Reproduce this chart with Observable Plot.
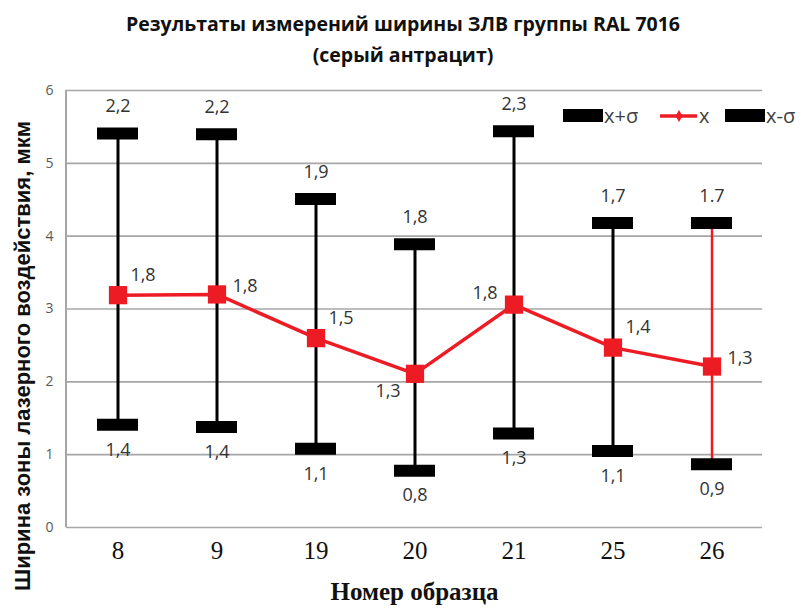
<!DOCTYPE html>
<html>
<head>
<meta charset="utf-8">
<script src="https://cdn.jsdelivr.net/npm/d3@7"></script>
<script src="https://cdn.jsdelivr.net/npm/@observablehq/plot@0.6"></script>
<style>
  body { margin: 0; background: #fff; }
  #wrap { position: relative; width: 806px; height: 608px; overflow: hidden; }
  #title { position: absolute; top: 8px; left: 0; width: 806px; text-align: center;
           font-family: "Open Sans", sans-serif; font-weight: 700; font-size: 19.5px; line-height: 31px; color: #111; }
  #chart { position: absolute; top: 0; left: 0; }
  #legend { position: absolute; left: 555px; top: 100px; }
</style>
</head>
<body>
<div id="wrap">
  <div id="chart"></div>
  <div id="title">Результаты измерений ширины ЗЛВ группы RAL 7016<br>(серый антрацит)</div>
  <svg id="legend" width="251" height="32"></svg>
</div>
<script>
const samples = ["8", "9", "19", "20", "21", "25", "26"];
const meanVals = [3.19, 3.2, 2.6, 2.11, 3.06, 2.47, 2.21];
const upperVals = [5.41, 5.4, 4.51, 3.89, 5.44, 4.18, 4.18];
const lowerVals = [1.41, 1.38, 1.08, 0.78, 1.29, 1.05, 0.87];
const upperLabels = ["2,2", "2,2", "1,9", "1,8", "2,3", "1,7", "1.7"];
const meanLabels = ["1,8", "1,8", "1,5", "1,3", "1,8", "1,4", "1,3"];
const lowerLabels = ["1,4", "1,4", "1,1", "0,8", "1,3", "1,1", "0,9"];
const meanLabelSide = ["ne", "e", "ne", "sw", "nw", "ne", "e"];
const yTicks = [0, 1, 2, 3, 4, 5, 6];
const seriesNames = ["x+σ", "x", "x-σ"];

const RED = "#ed1c24";
const sideOffset = {
  ne: {dx: 25, dy: -20},
  e: {dx: 28, dy: -8},
  sw: {dx: -27, dy: 17},
  nw: {dx: -29, dy: -11}
};

const data = samples.map((s, i) => ({
  sample: s, mean: meanVals[i], upper: upperVals[i], lower: lowerVals[i],
  upLab: upperLabels[i], meanLab: meanLabels[i], lowLab: lowerLabels[i], side: meanLabelSide[i]
}));

const labelFont = {fontSize: 18, fontFamily: "Open Sans, sans-serif", fill: "#333"};

function leftAxisLine(...args) {
  const dim = args.find(a => a && a.marginLeft !== undefined && a.height !== undefined);
  const ns = "http://www.w3.org/2000/svg";
  const l = document.createElementNS(ns, "line");
  l.setAttribute("x1", dim.marginLeft); l.setAttribute("x2", dim.marginLeft);
  l.setAttribute("y1", dim.marginTop); l.setAttribute("y2", dim.height - dim.marginBottom);
  l.setAttribute("stroke", "#a6a6a6"); l.setAttribute("stroke-width", 2);
  return l;
}

const meanLabelMarks = Object.keys(sideOffset).map(side =>
  Plot.text(data.filter(d => d.side === side), {
    x: "sample", y: "mean", text: "meanLab",
    dx: sideOffset[side].dx, dy: sideOffset[side].dy, ...labelFont
  })
);

const chart = Plot.plot({
  width: 806,
  height: 608,
  marginTop: 90,
  marginBottom: 81,
  marginLeft: 66,
  marginRight: 44,
  x: {type: "band", domain: samples, padding: 0},
  y: {domain: [0, 6]},
  marks: [
    Plot.gridY(yTicks, {stroke: "#a6a6a6", strokeOpacity: 1, strokeWidth: 1.6}),
    leftAxisLine,
    Plot.axisY({ticks: yTicks, tickFormat: d => String(d), tickSize: 0, tickPadding: 13, fontSize: 14,
                fill: "#595959", fontFamily: "Open Sans, sans-serif", label: null}),
    Plot.axisX({tickSize: 0, tickPadding: 14, fontSize: 25, fontFamily: "Liberation Serif, serif",
                fill: "#111", label: null}),
    Plot.ruleX(data, {x: "sample", y1: "lower", y2: "upper",
                      stroke: d => d.sample === "26" ? RED : "#000",
                      strokeWidth: d => d.sample === "26" ? 2.5 : 3}),
    Plot.tickY(data, {x: "sample", y: "upper", stroke: "#000", strokeWidth: 12, insetLeft: 29, insetRight: 29}),
    Plot.tickY(data, {x: "sample", y: "lower", stroke: "#000", strokeWidth: 12, insetLeft: 29, insetRight: 29}),
    Plot.line(data, {x: "sample", y: "mean", stroke: RED, strokeWidth: 3.5}),
    Plot.dot(data, {x: "sample", y: "mean", symbol: "square", r: 10.3, fill: RED, stroke: "none"}),
    Plot.text(data, {x: "sample", y: "upper", text: "upLab", dy: -27, ...labelFont}),
    Plot.text(data, {x: "sample", y: "lower", text: "lowLab", dy: 25, ...labelFont}),
    ...meanLabelMarks,
    Plot.text(["Номер образца"], {frameAnchor: "bottom", dy: 64, lineAnchor: "middle",
      fontSize: 25, fontWeight: "bold", fontFamily: "Liberation Serif, serif", fill: "#111"}),
    Plot.text(["Ширина зоны лазерного воздействия, мкм"], {frameAnchor: "left", dx: -44, dy: 47,
      rotate: -90, lineAnchor: "middle", textAnchor: "middle",
      fontSize: 22, fontWeight: "bold", fontFamily: "Liberation Sans, sans-serif", fill: "#111"})
  ]
});
document.getElementById("chart").appendChild(chart);

// legend
const lg = d3.select("#legend");
const item = lg.append("g");
item.append("rect").attr("x", 8).attr("y", 9).attr("width", 40).attr("height", 13).attr("fill", "#000");
item.append("text").attr("x", 49).attr("y", 16).attr("dy", "0.35em").text(seriesNames[0]);
item.append("line").attr("x1", 105).attr("x2", 142).attr("y1", 16).attr("y2", 16)
  .attr("stroke", RED).attr("stroke-width", 3.5);
item.append("path").attr("d", d3.symbol(d3.symbolDiamond, 40)()).attr("transform", "translate(124,16)").attr("fill", RED);
item.append("text").attr("x", 144).attr("y", 16).attr("dy", "0.35em").text(seriesNames[1]);
item.append("rect").attr("x", 170).attr("y", 9).attr("width", 40).attr("height", 13).attr("fill", "#000");
item.append("text").attr("x", 211).attr("y", 16).attr("dy", "0.35em").text(seriesNames[2]);
lg.selectAll("text").attr("font-family", "Open Sans, sans-serif").attr("font-size", 20).attr("fill", "#404040");
</script>
</body>
</html>
